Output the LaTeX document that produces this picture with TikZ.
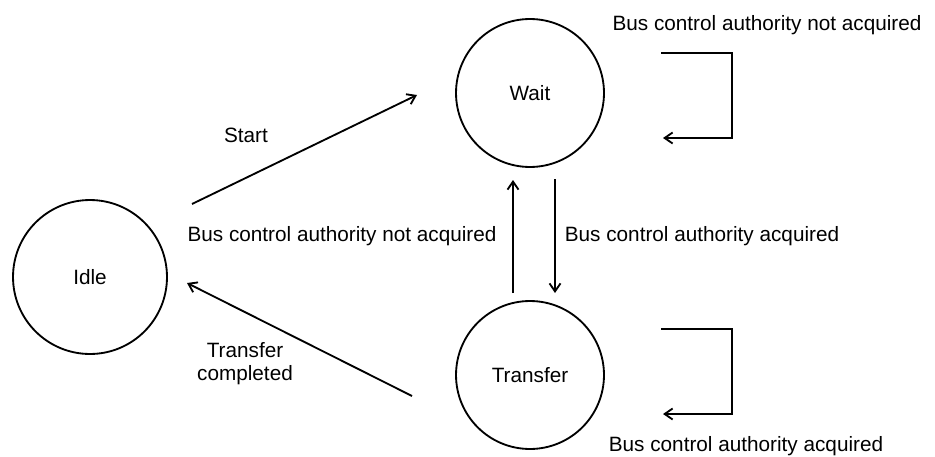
\documentclass[tikz,border=0pt]{standalone}
\usepackage{fontspec}
\setmainfont{Liberation Sans}
\usetikzlibrary{arrows.meta,positioning}
\tikzset{
  state/.style = {draw, line width=1.05pt, circle, inner sep=0pt, minimum size=2.96cm},
  lbl/.style   = {inner sep=0pt, align=center},
  sig/.style   = {-{Straight Barb[length=1.6mm,width=2.2mm]}, line width=1.05pt},
}
\begin{document}
\begin{tikzpicture}[x=0.02cm,y=-0.02cm,font=\fontsize{11.8}{13.2}\selectfont]
\useasboundingbox (0,0) rectangle (935,456);
% ---- states ----
\node[state,minimum size=3.08cm] (idle) at (90,277) {Idle};
\node[state] (wait) at (530,93) {Wait};
\node[state] (transfer) at (530,375) {Transfer};
% ---- arrow ends ----
\coordinate (startA) at (192,204);
\coordinate (startB) at (417,95);
\coordinate (doneA) at (412,396);
\coordinate (doneB) at (187,283);
\coordinate (upA) at (513,293);
\coordinate (upB) at (513,180);
\coordinate (downA) at (555,179);
\coordinate (downB) at (555,293);
\coordinate (wloopA) at (661,53);
\coordinate (wloopB) at (732,138);
\coordinate (wloopC) at (663,138);
\coordinate (tloopA) at (661,329);
\coordinate (tloopB) at (732,414);
\coordinate (tloopC) at (663,414);
% ---- transitions ----
\draw[sig] (startA) -- (startB);
\draw[sig] (doneA) -- (doneB);
\draw[sig] (upA) -- (upB);
\draw[sig] (downA) -- (downB);
\draw[sig] (wloopA) -| (wloopB) -- (wloopC);
\draw[sig] (tloopA) -| (tloopB) -- (tloopC);
% ---- labels ----
\node[lbl] (lstart) at (246,135) {Start};
\node[lbl] (ldone) at (245,364) {Transfer\\completed};
\node[lbl] (lnot) at (342,236) {Bus control authority not acquired};
\node[lbl] (lacq) at (702,236) {Bus control authority acquired};
\node[lbl] (lwloop) at (767,25) {Bus control authority not acquired};
\node[lbl] (ltloop) at (746,446) {Bus control authority acquired};
\end{tikzpicture}
\end{document}
